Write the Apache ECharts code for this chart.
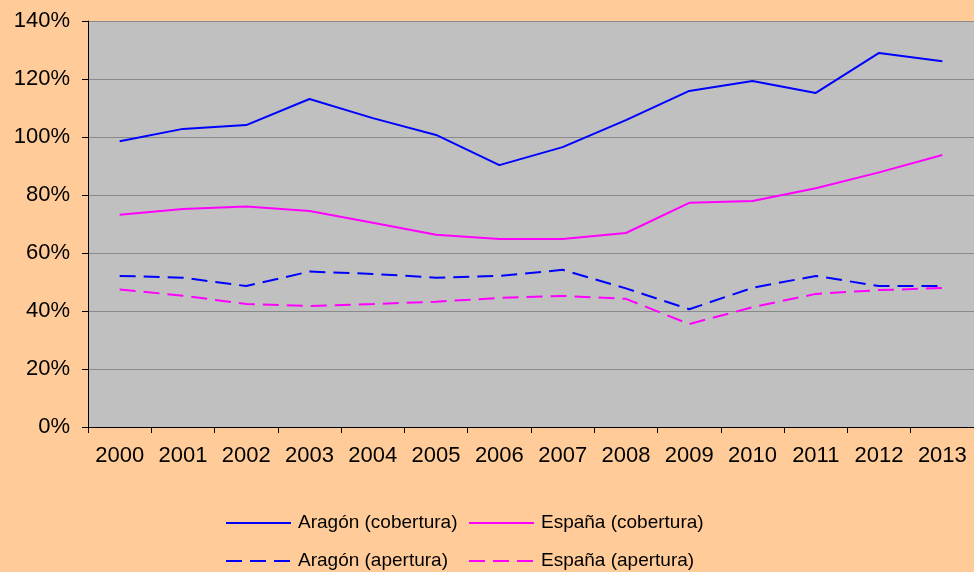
<!DOCTYPE html>
<html>
<head>
<meta charset="utf-8">
<script src="https://cdn.jsdelivr.net/npm/echarts@6/dist/echarts.min.js"></script>
<style>html,body{margin:0;padding:0;background:#FFCC99;}#c{width:974px;height:572px;}</style>
</head>
<body>
<div id="c"></div>
<script>
const years = ['2000','2001','2002','2003','2004','2005','2006','2007','2008','2009','2010','2011','2012','2013'];
const aragonCobertura = [98.5, 102.8, 104.1, 113.1, 106.5, 100.7, 90.3, 96.5, 105.8, 115.9, 119.3, 115.2, 129.0, 126.1];
const espanaCobertura = [73.2, 75.2, 76.0, 74.5, 70.4, 66.3, 64.8, 64.8, 66.9, 77.3, 77.9, 82.3, 87.8, 93.8];
const aragonApertura = [52.1, 51.5, 48.6, 53.6, 52.8, 51.5, 52.1, 54.2, 47.8, 40.6, 48.0, 52.1, 48.6, 48.6];
const espanaApertura = [47.4, 45.3, 42.4, 41.7, 42.4, 43.2, 44.5, 45.2, 44.2, 35.5, 41.3, 45.9, 47.2, 47.9];
const names = ['Aragón (cobertura)', 'España (cobertura)', 'Aragón (apertura)', 'España (apertura)'];

const FONT = 'Liberation Sans, Arial, sans-serif';
const chart = echarts.init(document.getElementById('c'));
function mk(name, data, color, dashed) {
  return {
    name: name, type: 'line', data: data, symbol: 'none', showSymbol: false,
    lineStyle: {color: color, width: 2, type: dashed ? [16, 8] : 'solid'},
    itemStyle: {color: color}, animation: false
  };
}
const legendCommon = {
  orient: 'vertical', top: 513, height: 90, padding: 0,
  itemWidth: 65, itemHeight: 14, itemGap: 18,
  itemStyle: {opacity: 0},
  textStyle: {fontFamily: FONT, fontSize: 19, lineHeight: 20, color: '#000', padding: [0, 0, 0, 2]}
};
chart.setOption({
  backgroundColor: '#FFCC99',
  animation: false,
  grid: {left: 88, top: 21, right: 0, bottom: 145, show: true, backgroundColor: '#C0C0C0', borderWidth: 0},
  legend: [
    Object.assign({left: 225, data: [names[0], names[2]]}, legendCommon),
    Object.assign({left: 468, data: [names[1], names[3]]}, legendCommon)
  ],
  xAxis: {
    type: 'category', data: years, boundaryGap: true,
    axisLine: {lineStyle: {color: '#000', width: 1}},
    axisTick: {show: true, length: 6, lineStyle: {color: '#000'}},
    axisLabel: {fontFamily: FONT, fontSize: 22, color: '#000', margin: 18, interval: 0}
  },
  yAxis: {
    type: 'value', min: 0, max: 140, interval: 20,
    axisLine: {show: true, lineStyle: {color: '#000', width: 1}},
    axisTick: {show: true, length: 6, lineStyle: {color: '#000'}},
    splitLine: {show: true, lineStyle: {color: '#8a8a8a', width: 1}},
    axisLabel: {fontFamily: FONT, fontSize: 22, color: '#000', margin: 18, formatter: v => v + '%'}
  },
  series: [
    mk(names[0], aragonCobertura, '#0000FF', false),
    mk(names[1], espanaCobertura, '#FF00FF', false),
    mk(names[2], aragonApertura, '#0000FF', true),
    mk(names[3], espanaApertura, '#FF00FF', true)
  ]
});
</script>
</body>
</html>
